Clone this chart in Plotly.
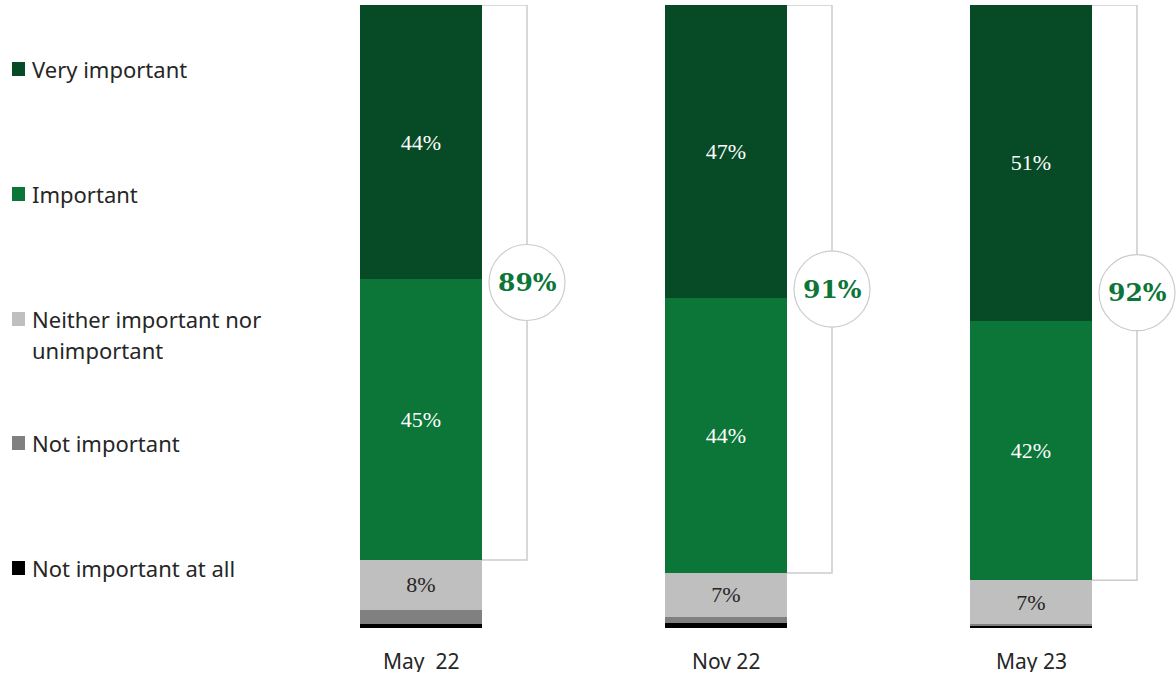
import plotly.graph_objects as go

# Survey waves and response shares (%)
waves = ["May\u00a0 22", "Nov 22", "May 23"]
series_names = ["Very important", "Important", "Neither important nor<br>unimportant",
                "Not important", "Not important at all"]
very_important = [44, 47, 51]
important = [45, 44, 42]
neither = [8, 7, 7]
not_important = [2.3, 1.0, 0.4]
not_at_all = [0.6, 0.8, 0.3]
combined_labels = ["89%", "91%", "92%"]

colors = ["#074b26", "#0b7638", "#bfbfbf", "#808080", "#000000"]
text_colors = ["#ffffff", "#ffffff", "#262626", "#262626", "#262626"]

# stacking order: bottom to top
stack = [
    (not_at_all, 4),
    (not_important, 3),
    (neither, 2),
    (important, 1),
    (very_important, 0),
]

W, H = 1176, 675
L, R, T, B = 300, 0, 5, 47
PW, PH = W - L - R, H - T - B
x_pos = list(range(len(waves)))
bar_w = 0.4
bracket_off = 45 / 305

def px_x(p):
    return (p - L) / PW

def px_y(p):
    return (H - B - p) / PH

fig = go.Figure()
for vals, idx in stack:
    labels = [f"{v:g}%" if v >= 3 else "" for v in vals]
    fig.add_trace(go.Bar(
        x=x_pos, y=vals, width=bar_w, name=series_names[idx],
        marker=dict(color=colors[idx], line=dict(width=0)),
        text=labels, textposition="inside", insidetextanchor="middle",
        textangle=0,
        textfont=dict(family="Liberation Serif, DejaVu Serif, serif", size=22,
                      color=text_colors[idx]),
        showlegend=False, hoverinfo="skip",
    ))

shapes = []
annotations = []
for i in x_pos:
    total = very_important[i] + important[i] + neither[i] + not_important[i] + not_at_all[i]
    top = 100.0
    bottom = 100.0 - very_important[i] / total * 100 - important[i] / total * 100
    xr = i + bar_w / 2
    xb = xr + bracket_off
    shapes.append(dict(type="path", xref="x", yref="y",
                       path=f"M {xr},{top} L {xb},{top} L {xb},{bottom} L {xr},{bottom}",
                       line=dict(color="#cccccc", width=1.5), layer="below"))
    ymid = (top + bottom) / 2
    shapes.append(dict(type="circle", xref="x", yref="y",
                       xsizemode="pixel", ysizemode="pixel",
                       xanchor=xb, yanchor=ymid, x0=-38, x1=38, y0=-38, y1=38,
                       fillcolor="#ffffff", line=dict(color="#cccccc", width=1.2),
                       layer="above"))
    annotations.append(dict(x=xb, y=ymid, xref="x", yref="y", text=combined_labels[i],
                            showarrow=False, xanchor="center", yanchor="middle",
                            font=dict(family="DejaVu Serif, Liberation Serif, serif",
                                      size=25, color="#0b7638", weight="bold")))
    annotations.append(dict(x=i, y=0, xref="x", yref="y", text=waves[i],
                            showarrow=False, xanchor="center", yanchor="middle",
                            yshift=-33, height=22, borderpad=0,
                            font=dict(family="Noto Sans, sans-serif", size=21,
                                      color="#262626")))

# custom legend on the left
legend_rows = [69, 194, 319, 443, 568]
for idx, name in enumerate(series_names):
    yc = legend_rows[idx]
    shapes.append(dict(type="rect", xref="paper", yref="paper",
                       x0=px_x(12), x1=px_x(25), y0=px_y(yc + 7), y1=px_y(yc - 7),
                       fillcolor=colors[idx], line=dict(width=0)))
    for k, line in enumerate(name.split("<br>")):
        annotations.append(dict(x=px_x(30), y=px_y(yc + 31 * k), xref="paper", yref="paper",
                                text=line, showarrow=False, xanchor="left", yanchor="middle",
                                font=dict(family="Noto Sans, sans-serif", size=22,
                                          color="#262626")))

fig.update_layout(
    width=W, height=H, barmode="stack", barnorm="percent",
    margin=dict(l=L, r=R, t=T, b=B),
    paper_bgcolor="#ffffff", plot_bgcolor="#ffffff",
    xaxis=dict(range=[-(421 - L) / 305, 2 + (W - R - 1031) / 305],
               showticklabels=False, showgrid=False, zeroline=False, showline=False),
    yaxis=dict(range=[0, 100], showticklabels=False, showgrid=False,
               zeroline=False, showline=False),
    shapes=shapes, annotations=annotations,
    uniformtext=dict(minsize=10, mode="show"),
)

fig.write_html("out.html")
